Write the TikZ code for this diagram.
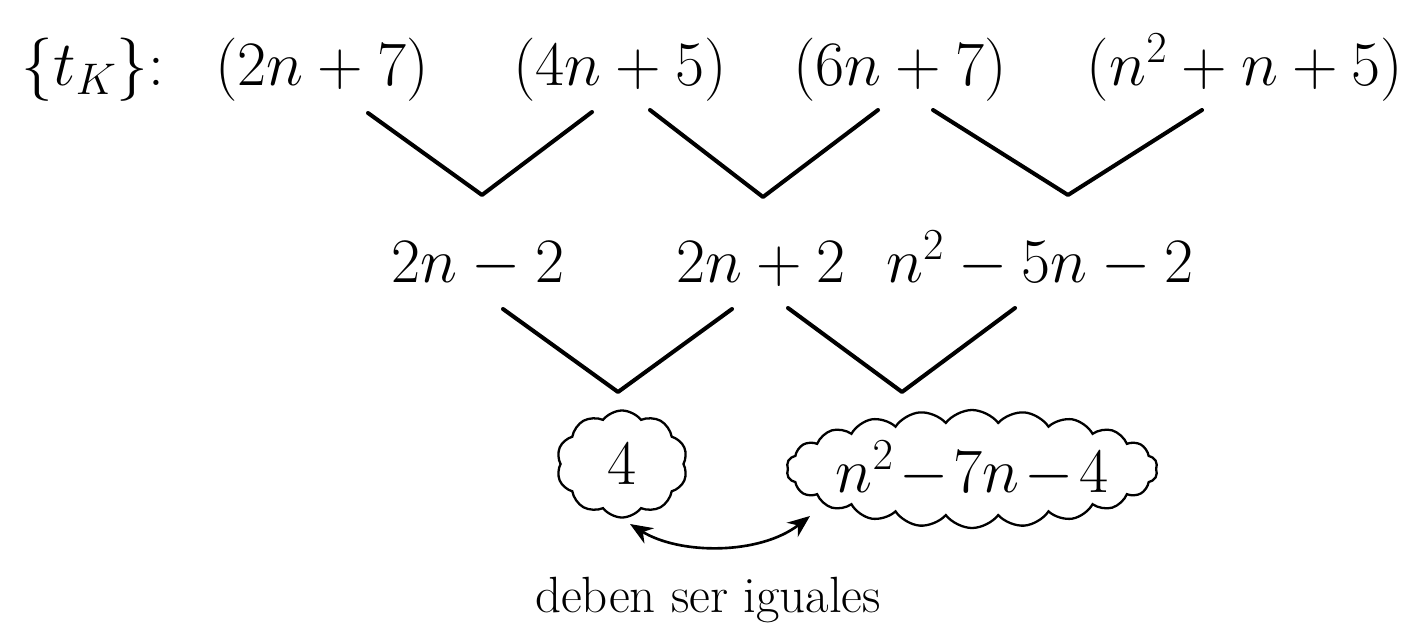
\RequirePackage{fix-cm}
\documentclass[tikz,border=0pt]{standalone}
\usepackage{amsmath}
\usetikzlibrary{arrows.meta,shapes.symbols}

\begin{document}
\begin{tikzpicture}[
    x=0.2mm, y=-0.2mm,
    >={Stealth[length=4.5mm,width=3.6mm]},
    font=\fontsize{36}{42}\selectfont,
    term/.style={anchor=base, inner sep=0pt},
    vee/.style={line width=2.3pt, line join=round, line cap=round},
    blob/.style={cloud, draw, line width=1.3pt, cloud ignores aspect,
                 cloud puff arc=105, inner sep=0pt},
    lbl/.style={anchor=base, inner sep=0pt, font=\fontsize{29}{34}\selectfont}
]
\useasboundingbox (0,0) rectangle (1421,627);

% ---- Sequence terms ----
\node[term] (tk) at (93,85)   {$\{t_K\}$:};
\node[term] (a1) at (322,85)  {$(2n+7)$};
\node[term] (a2) at (620,85)  {$(4n+5)$};
\node[term] (a3) at (900,85)  {$(6n+7)$};
\node[term] (a4) at (1245,85) {$(n^2+n+5)$};

% ---- First differences ----
\node[term] (b1) at (478,282)  {$2n-2$};
\node[term] (b2) at (761,282)  {$2n+2$};
\node[term] (b3) at (1040,282) {$n^2-5n-2$};

% ---- Second differences ----
\node[blob, minimum width=26.2mm, minimum height=21.4mm, cloud puffs=10]
      (c1) at (622,464) {\makebox[0pt]{$4$}};
\node[blob, minimum width=74.2mm, minimum height=23.6mm, cloud puffs=22]
      (c2) at (972,469) {\makebox[0pt]{$\medmuskip=1.5mu n^2-7n-4$}};

% ---- V connectors ----
\coordinate (u1l) at (368,113); \coordinate (u1) at (482,195); \coordinate (u1r) at (592,112);
\coordinate (u2l) at (650,110); \coordinate (u2) at (763,197); \coordinate (u2r) at (878,110);
\coordinate (u3l) at (933,110); \coordinate (u3) at (1068,195); \coordinate (u3r) at (1202,110);
\coordinate (w1l) at (503,309); \coordinate (w1) at (618,392); \coordinate (w1r) at (732,309);
\coordinate (w2l) at (788,308); \coordinate (w2) at (902,392); \coordinate (w2r) at (1015,308);

\draw[vee] (u1l) -- (u1) -- (u1r);
\draw[vee] (u2l) -- (u2) -- (u2r);
\draw[vee] (u3l) -- (u3) -- (u3r);
\draw[vee] (w1l) -- (w1) -- (w1r);
\draw[vee] (w2l) -- (w2) -- (w2r);

% ---- Equality arrow ----
\coordinate (eqa) at (630,524);
\coordinate (eqb) at (810,516);
\draw[<->, line width=1.5pt] (eqa) .. controls (680,555) and (760,555) .. (eqb);
\node[lbl] (note) at (708,612) {deben ser iguales};

\end{tikzpicture}
\end{document}
